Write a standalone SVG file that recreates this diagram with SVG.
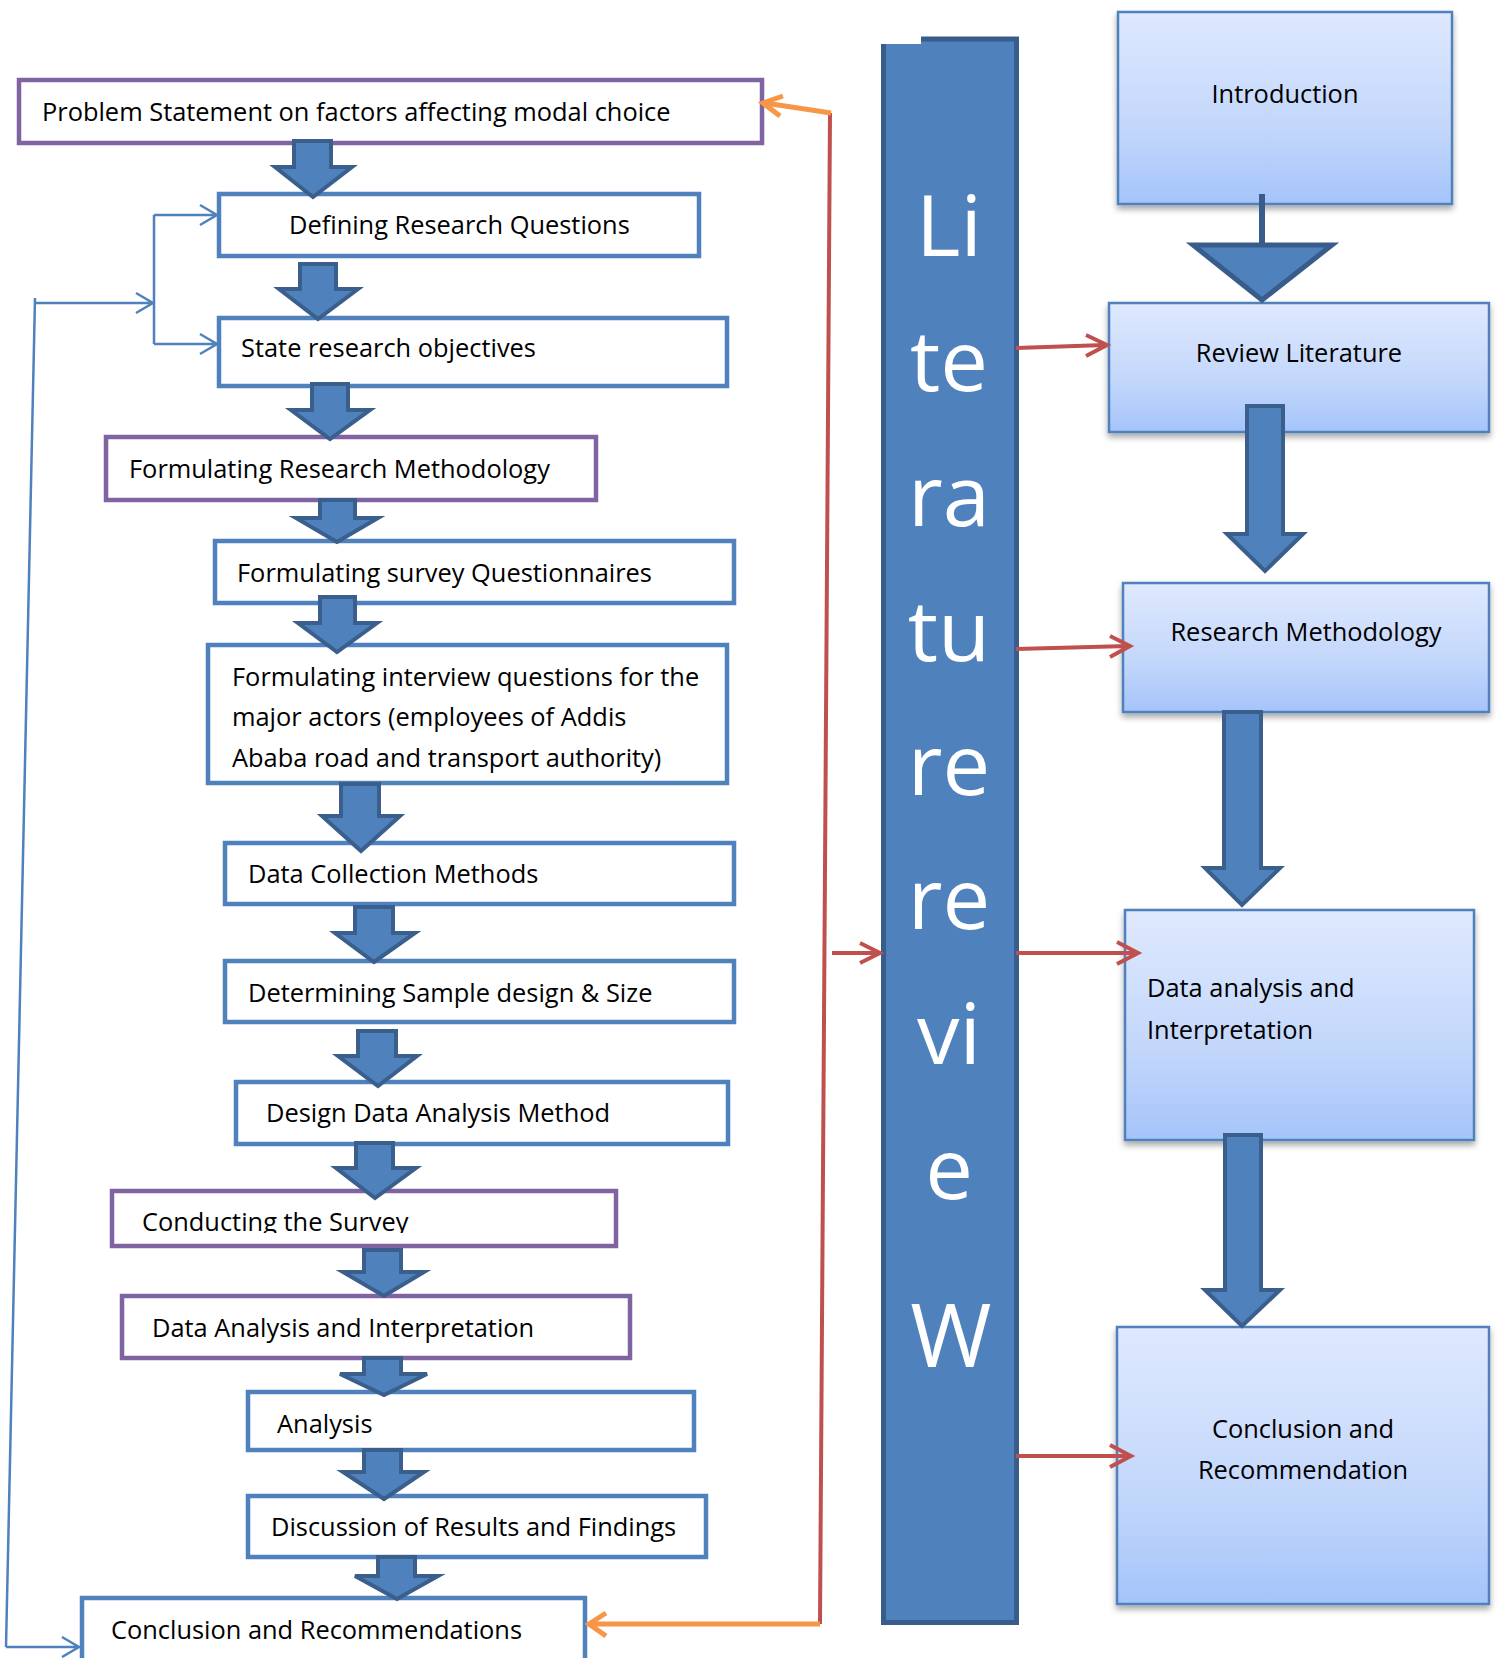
<svg xmlns="http://www.w3.org/2000/svg" width="1500" height="1658" viewBox="0 0 1500 1658">
<defs>
<style>
.bx{fill:#fff;stroke-width:4.5}
.bl{stroke:#4F81BD}
.pu{stroke:#8064A2}
.t{font-family:"Open Sans","DejaVu Sans",sans-serif;font-size:25.4px;fill:#000}
.ba{fill:#4F81BD;stroke:#3A5F8C;stroke-width:4;stroke-linejoin:miter}
.rb{fill:url(#g);stroke:#4F81BD;stroke-width:2.5;filter:url(#sh)}
.big{font-family:"Open Sans","DejaVu Sans",sans-serif;font-size:85px;fill:#fff;text-anchor:middle}
.thin{fill:none;stroke:#4F81BD;stroke-width:2.5}
.red{fill:none;stroke:#C0504D;stroke-width:4}
.or{fill:none;stroke:#F79646;stroke-width:5}
</style>
<linearGradient id="g" x1="0" y1="0" x2="0" y2="1">
<stop offset="0" stop-color="#DFE9FE"/>
<stop offset="0.6" stop-color="#C3D7FB"/>
<stop offset="1" stop-color="#A5C4FA"/>
</linearGradient>
<filter id="sh" x="-5%" y="-5%" width="110%" height="115%">
<feDropShadow dx="0" dy="4" stdDeviation="3" flood-color="#000" flood-opacity="0.35"/>
</filter>
<clipPath id="clipCS"><rect x="112" y="1191" width="504" height="42"/></clipPath>
</defs>

<g id="lit-bar">
<path d="M881,44 L921,44 L921,39 L1019,39 L1019,1625 L881,1625 Z" fill="#4F81BD"/>
<path d="M921,39 L1016.5,39 L1016.5,1622.5 L883.5,1622.5 L883.5,44" fill="none" stroke="#385D8A" stroke-width="5"/>
<text class="big" x="949" y="256">Li</text>
<text class="big" x="949" y="391">te</text>
<text class="big" x="949" y="526">ra</text>
<text class="big" x="949" y="661">tu</text>
<text class="big" x="949" y="795">re</text>
<text class="big" x="949" y="929">re</text>
<text class="big" x="949" y="1064">vi</text>
<text class="big" x="949" y="1199">e</text>
<text class="big" x="951" y="1367" style="font-size:88px">W</text>
</g>

<g id="n-problem"><rect class="bx pu" x="19" y="80" width="743" height="63"/><text class="t" x="42" y="121">Problem Statement on factors affecting modal choice</text></g>
<g id="n-defining"><rect class="bx bl" x="219" y="194" width="480" height="62"/><text class="t" x="289" y="234">Defining Research Questions</text></g>
<g id="n-state"><rect class="bx bl" x="219" y="318" width="508" height="68"/><text class="t" x="241" y="357">State research objectives</text></g>
<g id="n-frm"><rect class="bx pu" x="106" y="437" width="490" height="63"/><text class="t" x="129" y="478">Formulating Research Methodology</text></g>
<g id="n-survey"><rect class="bx bl" x="215" y="541" width="519" height="62"/><text class="t" x="237" y="582">Formulating survey Questionnaires</text></g>
<g id="n-interview"><rect class="bx bl" x="208" y="645" width="519" height="138"/><text class="t" x="232" y="686">Formulating interview questions for the</text><text class="t" x="232" y="726">major actors (employees of Addis</text><text class="t" x="232" y="767">Ababa road and transport authority)</text></g>
<g id="n-datacoll"><rect class="bx bl" x="225" y="843" width="509" height="61"/><text class="t" x="248" y="883">Data Collection Methods</text></g>
<g id="n-sample"><rect class="bx bl" x="225" y="961" width="509" height="61"/><text class="t" x="248" y="1002">Determining Sample design &amp; Size</text></g>
<g id="n-design"><rect class="bx bl" x="236" y="1082" width="492" height="62"/><text class="t" x="266" y="1122">Design Data Analysis Method</text></g>
<g id="n-conduct"><rect class="bx pu" x="112" y="1191" width="504" height="55"/><text class="t" x="142" y="1231" clip-path="url(#clipCS)">Conducting the Survey</text></g>
<g id="n-dai"><rect class="bx pu" x="122" y="1296" width="508" height="62"/><text class="t" x="152" y="1337">Data Analysis and Interpretation</text></g>
<g id="n-analysis"><rect class="bx bl" x="248" y="1392" width="446" height="58"/><text class="t" x="277" y="1433">Analysis</text></g>
<g id="n-discussion"><rect class="bx bl" x="248" y="1496" width="458" height="61"/><text class="t" x="271" y="1536">Discussion of Results and Findings</text></g>
<g id="n-conclusion"><rect class="bx bl" x="82" y="1598" width="503" height="70"/><text class="t" x="111" y="1639">Conclusion and Recommendations</text></g>

<g id="n-intro"><rect class="rb" x="1118" y="12" width="334" height="192"/><text class="t" x="1285" y="103" text-anchor="middle">Introduction</text></g>
<g id="n-review"><rect class="rb" x="1109" y="303" width="380" height="129"/><text class="t" x="1299" y="362" text-anchor="middle">Review Literature</text></g>
<g id="n-resmeth"><rect class="rb" x="1123" y="583" width="366" height="129"/><text class="t" x="1306" y="641" text-anchor="middle">Research Methodology</text></g>
<g id="n-dataan"><rect class="rb" x="1125" y="910" width="349" height="230"/><text class="t" x="1147" y="997">Data analysis and</text><text class="t" x="1147" y="1039">Interpretation</text></g>
<g id="n-concrec"><rect class="rb" x="1117" y="1327" width="372" height="277"/><text class="t" x="1303" y="1438" text-anchor="middle">Conclusion and</text><text class="t" x="1303" y="1479" text-anchor="middle">Recommendation</text></g>

<g id="connectors">
<path class="ba" d="M294,141 L331,141 L331,167 L352,167 L313,197 L275,167 L294,167 Z"/>
<path class="ba" d="M300,264 L336,264 L336,289 L358,289 L318,319 L279,289 L300,289 Z"/>
<path class="ba" d="M312,384 L348,384 L348,410 L370,410 L330,439 L291,410 L312,410 Z"/>
<path class="ba" d="M320,500 L355,500 L355,518 L378,518 L337,542 L296,518 L320,518 Z"/>
<path class="ba" d="M320,597 L355,597 L355,623 L377,623 L337,652 L298,623 L320,623 Z"/>
<path class="ba" d="M341,784 L379,784 L379,816 L400,816 L361,851 L322,816 L341,816 Z"/>
<path class="ba" d="M355,907 L393,907 L393,933 L415,933 L374,962 L335,933 L355,933 Z"/>
<path class="ba" d="M358,1031 L396,1031 L396,1056 L417,1056 L378,1086 L338,1056 L358,1056 Z"/>
<path class="ba" d="M356,1143 L393,1143 L393,1168 L416,1168 L375,1198 L336,1168 L356,1168 Z"/>
<path class="ba" d="M364,1250 L401,1250 L401,1272 L424,1272 L384,1296 L343,1272 L364,1272 Z"/>
<path class="ba" d="M364,1358 L401,1358 L401,1374 L427,1374 L384,1395 L340,1374 L364,1374 Z"/>
<path class="ba" d="M364,1450 L401,1450 L401,1472 L424,1472 L384,1499 L343,1472 L364,1472 Z"/>
<path class="ba" d="M378,1557 L415,1557 L415,1576 L438,1576 L397,1599 L355,1576 L378,1576 Z"/>

<line x1="1262" y1="194" x2="1262" y2="246" stroke="#385D8A" stroke-width="6"/>
<path d="M1193,245 L1332,245 L1262,300 Z" fill="#4F81BD" stroke="#385D8A" stroke-width="5"/>
<path class="ba" d="M1247,406 L1283,406 L1283,534 L1303,534 L1265,571 L1227,534 L1247,534 Z"/>
<path class="ba" d="M1224,712 L1261,712 L1261,868 L1280,868 L1242,905 L1205,868 L1224,868 Z"/>
<path class="ba" d="M1225,1135 L1261,1135 L1261,1290 L1280,1290 L1242,1326 L1205,1290 L1225,1290 Z"/>

<path class="thin" d="M154,215 L154,344 M154,215 L216,215 M154,344 L216,344 M200,205 L217,215 L200,225 M200,334 L217,344 L200,354"/>
<path class="thin" d="M35,298 L6,1647 M35,303 L152,303 M136,293 L153,303 L136,313 M6,1647 L78,1647 M62,1637 L79,1647 L62,1657"/>

<path class="red" d="M830,113 L820,1624"/>
<path class="red" d="M832,953 L878,953 M860,943 L880,953 L860,963"/>
<path class="red" d="M1016,348 L1105,345 M1086,335 L1107,345 L1086,356"/>
<path class="red" d="M1016,649 L1128,646 M1110,636 L1130,646 L1110,657"/>
<path class="red" d="M1016,953 L1135,953 M1117,942 L1138,953 L1117,964"/>
<path class="red" d="M1016,1456 L1129,1456 M1110,1445 L1131,1456 L1110,1467"/>

<path class="or" d="M831,113 L765,103 M783,96 L763,103 L780,116"/>
<path class="or" d="M820,1624 L590,1624 M606,1613 L589,1624 L606,1636"/>
</g>
</svg>
